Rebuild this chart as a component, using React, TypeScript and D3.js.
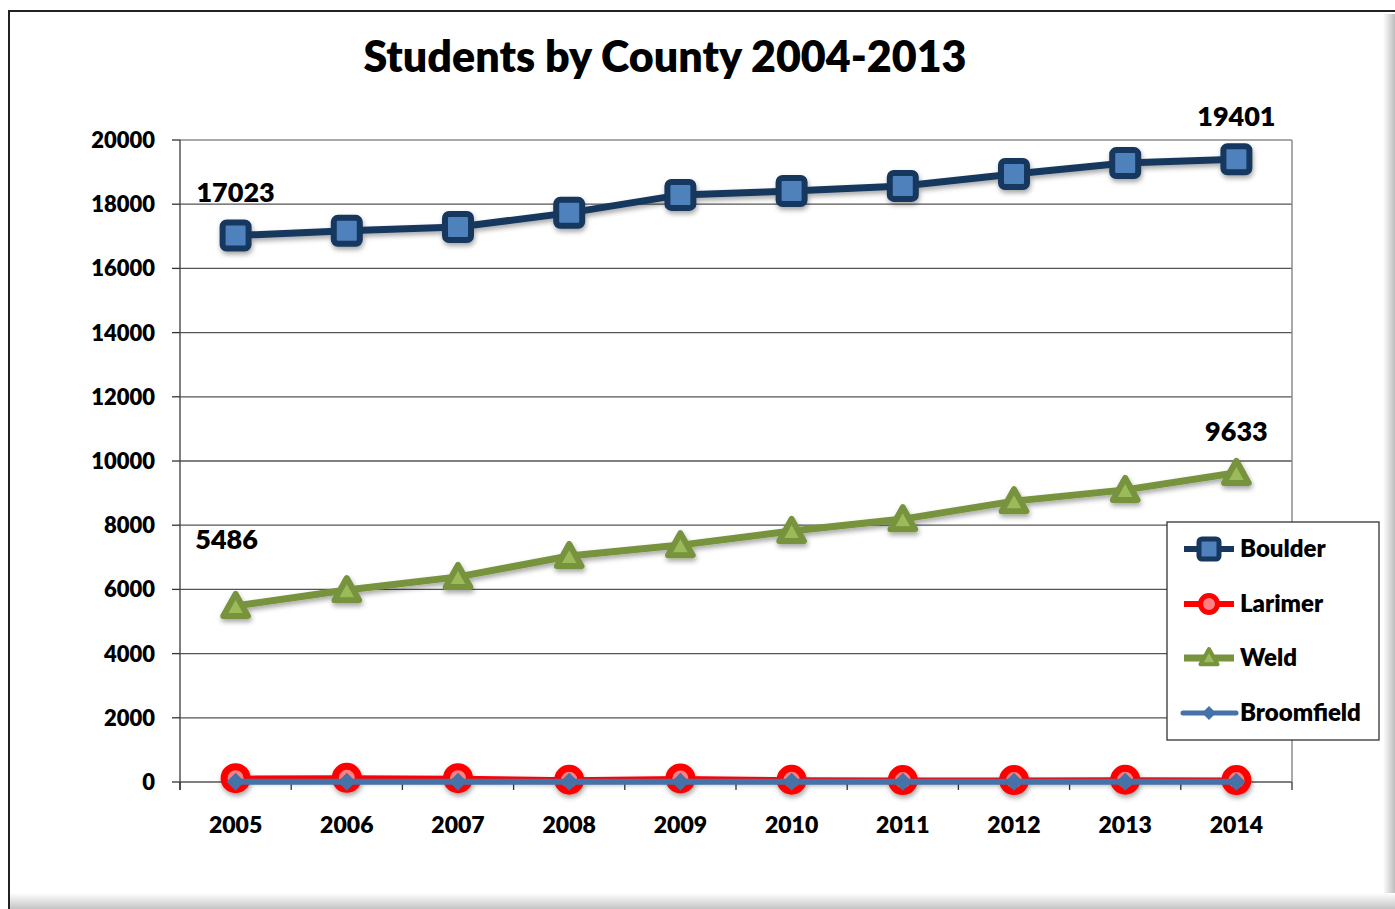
import React from "react";
import * as d3 from "d3";

const years = ["2005", "2006", "2007", "2008", "2009", "2010", "2011", "2012", "2013", "2014"];
const boulder = [17023, 17170, 17290, 17730, 18290, 18410, 18570, 18940, 19280, 19401];
const larimer = [120, 130, 120, 70, 110, 70, 60, 60, 70, 60];
const weld = [5486, 5980, 6390, 7040, 7380, 7820, 8190, 8750, 9100, 9633];
const broomfield = [10, 10, 10, 10, 10, 10, 10, 10, 10, 10];
const yTicks = [0, 2000, 4000, 6000, 8000, 10000, 12000, 14000, 16000, 18000, 20000];
const seriesNames = ["Boulder", "Larimer", "Weld", "Broomfield"];

const FONT = "Lato, 'Open Sans', sans-serif";
const FW = 800;

export default function App() {
  const W = 1395, H = 909;
  const left = 180, right = 1292, top = 140, bottom = 782;
  const x = d3.scaleBand<string>().domain(years).range([left, right]);
  const y = d3.scaleLinear().domain([0, 20000]).range([bottom, top]);
  const cx = (i: number) => (x(years[i]) as number) + x.bandwidth() / 2;
  const line = d3.line<number>().x((_, i) => cx(i)).y((d) => y(d));

  const tri = (px: number, py: number, s: number) =>
    `M${px},${py - s} L${px + s * 0.95},${py + s * 0.7} L${px - s * 0.95},${py + s * 0.7} Z`;
  const dia = (px: number, py: number, s: number) =>
    `M${px},${py - s} L${px + s},${py} L${px},${py + s} L${px - s},${py} Z`;

  const ticksX = [...years.map((yr) => x(yr) as number), right];

  const legendY = [549, 604, 658, 713];

  return (
    <svg width={W} height={H} style={{ position: "absolute", left: 0, top: 0 }} fontFamily={FONT}>
      <defs>
        <filter id="sh" x="-50%" y="-50%" width="200%" height="200%">
          <feDropShadow dx="1" dy="3" stdDeviation="2.5" floodColor="#000" floodOpacity="0.35" />
        </filter>
        <linearGradient id="rg" x1="0" x2="1" y1="0" y2="0">
          <stop offset="0" stopColor="#ffffff" />
          <stop offset="1" stopColor="#bdbdbd" />
        </linearGradient>
        <linearGradient id="bg" x1="0" x2="0" y1="0" y2="1">
          <stop offset="0" stopColor="#ffffff" />
          <stop offset="1" stopColor="#c4c4c4" />
        </linearGradient>
      </defs>
      <rect x={0} y={0} width={W} height={H} fill="#fff" />
      {/* frame bevel */}
      <rect x={1383} y={14} width={12} height={895} fill="url(#rg)" />
      <rect x={10} y={893} width={1385} height={16} fill="url(#bg)" />
      <line x1={8} y1={11} x2={1395} y2={11} stroke="#222" strokeWidth={2} />
      <line x1={9} y1={11} x2={9} y2={909} stroke="#222" strokeWidth={2} />

      <text x={665} y={72} textAnchor="middle" fontSize={43} fontWeight={FW} fill="#000">
        Students by County 2004-2013
      </text>

      {/* gridlines */}
      {yTicks.map((t) => (
        <line key={t} x1={left} x2={right} y1={y(t)} y2={y(t)} stroke={t === 20000 ? "#8c8c8c" : "#555"} strokeWidth={1.3} />
      ))}
      <line x1={right} x2={right} y1={top} y2={bottom} stroke="#8c8c8c" strokeWidth={1.5} />
      <line x1={left} x2={left} y1={top} y2={bottom + 8} stroke="#555" strokeWidth={1.5} />
      {yTicks.map((t) => (
        <line key={"t" + t} x1={left - 8} x2={left} y1={y(t)} y2={y(t)} stroke="#333" strokeWidth={1.3} />
      ))}
      {ticksX.map((tx, i) => (
        <line key={"x" + i} x1={tx} x2={tx} y1={bottom} y2={bottom + 8} stroke="#333" strokeWidth={1.3} />
      ))}
      {yTicks.map((t) => (
        <text key={"l" + t} x={155} y={y(t) + 8} textAnchor="end" fontSize={22} fontWeight={FW}>
          {t}
        </text>
      ))}
      {years.map((yr, i) => (
        <text key={yr} x={cx(i)} y={833} textAnchor="middle" fontSize={23} fontWeight={FW}>
          {yr}
        </text>
      ))}

      {/* Boulder */}
      <g filter="url(#sh)">
        <path d={line(boulder) || ""} fill="none" stroke="#17375E" strokeWidth={7} />
        {boulder.map((v, i) => (
          <rect key={i} x={cx(i) - 13} y={y(v) - 13} width={26} height={26} rx={4} fill="#4F81BD" stroke="#17375E" strokeWidth={6} />
        ))}
      </g>
      {/* Weld */}
      <g filter="url(#sh)">
        <path d={line(weld) || ""} fill="none" stroke="#77933C" strokeWidth={7} />
        {weld.map((v, i) => (
          <path key={i} d={tri(cx(i), y(v) + 1, 13)} fill="#9BBB59" stroke="#77933C" strokeWidth={6} strokeLinejoin="round" />
        ))}
      </g>
      {/* Larimer */}
      <g filter="url(#sh)">
        <path d={line(larimer) || ""} fill="none" stroke="#FF0000" strokeWidth={5} />
        {larimer.map((v, i) => (
          <circle key={i} cx={cx(i)} cy={y(v)} r={11.5} fill="#FF8080" stroke="#FF0000" strokeWidth={7} />
        ))}
      </g>
      {/* Broomfield */}
      <g>
        <path d={line(broomfield) || ""} fill="none" stroke="#4572A7" strokeWidth={6} />
        {broomfield.map((v, i) => (
          <path key={i} d={dia(cx(i), y(v), 9)} fill="#4572A7" />
        ))}
      </g>

      {/* data labels */}
      <text x={cx(0)} y={y(boulder[0]) - 34} textAnchor="middle" fontSize={27} fontWeight={FW}>{boulder[0]}</text>
      <text x={cx(9)} y={y(boulder[9]) - 33} textAnchor="middle" fontSize={27} fontWeight={FW}>{boulder[9]}</text>
      <text x={cx(0) - 9} y={y(weld[0]) - 57} textAnchor="middle" fontSize={27} fontWeight={FW}>{weld[0]}</text>
      <text x={cx(9)} y={y(weld[9]) - 32} textAnchor="middle" fontSize={27} fontWeight={FW}>{weld[9]}</text>

      {/* legend */}
      <rect x={1167} y={522} width={212} height={218} fill="#fff" stroke="#333" strokeWidth={1.3} />
      {seriesNames.map((n, i) => {
        const ly = legendY[i];
        const mx = 1209;
        return (
          <g key={n}>
            {i === 0 && (
              <>
                <line x1={1184} x2={1234} y1={ly} y2={ly} stroke="#17375E" strokeWidth={6} />
                <rect x={mx - 10} y={ly - 10} width={20} height={20} rx={3} fill="#4F81BD" stroke="#17375E" strokeWidth={5} />
              </>
            )}
            {i === 1 && (
              <>
                <line x1={1184} x2={1234} y1={ly} y2={ly} stroke="#FF0000" strokeWidth={6} />
                <circle cx={mx} cy={ly} r={8.5} fill="#FF8080" stroke="#FF0000" strokeWidth={5} />
              </>
            )}
            {i === 2 && (
              <>
                <line x1={1184} x2={1234} y1={ly} y2={ly} stroke="#77933C" strokeWidth={7} />
                <path d={tri(mx, ly, 9)} fill="#9BBB59" stroke="#77933C" strokeWidth={4} strokeLinejoin="round" />
              </>
            )}
            {i === 3 && (
              <>
                <line x1={1183} x2={1236} y1={ly} y2={ly} stroke="#4572A7" strokeWidth={5} strokeLinecap="round" />
                <path d={dia(mx, ly, 7)} fill="#4572A7" />
              </>
            )}
            <text x={1240} y={ly + 8} fontSize={24} fontWeight={FW}>{n}</text>
          </g>
        );
      })}
    </svg>
  );
}
